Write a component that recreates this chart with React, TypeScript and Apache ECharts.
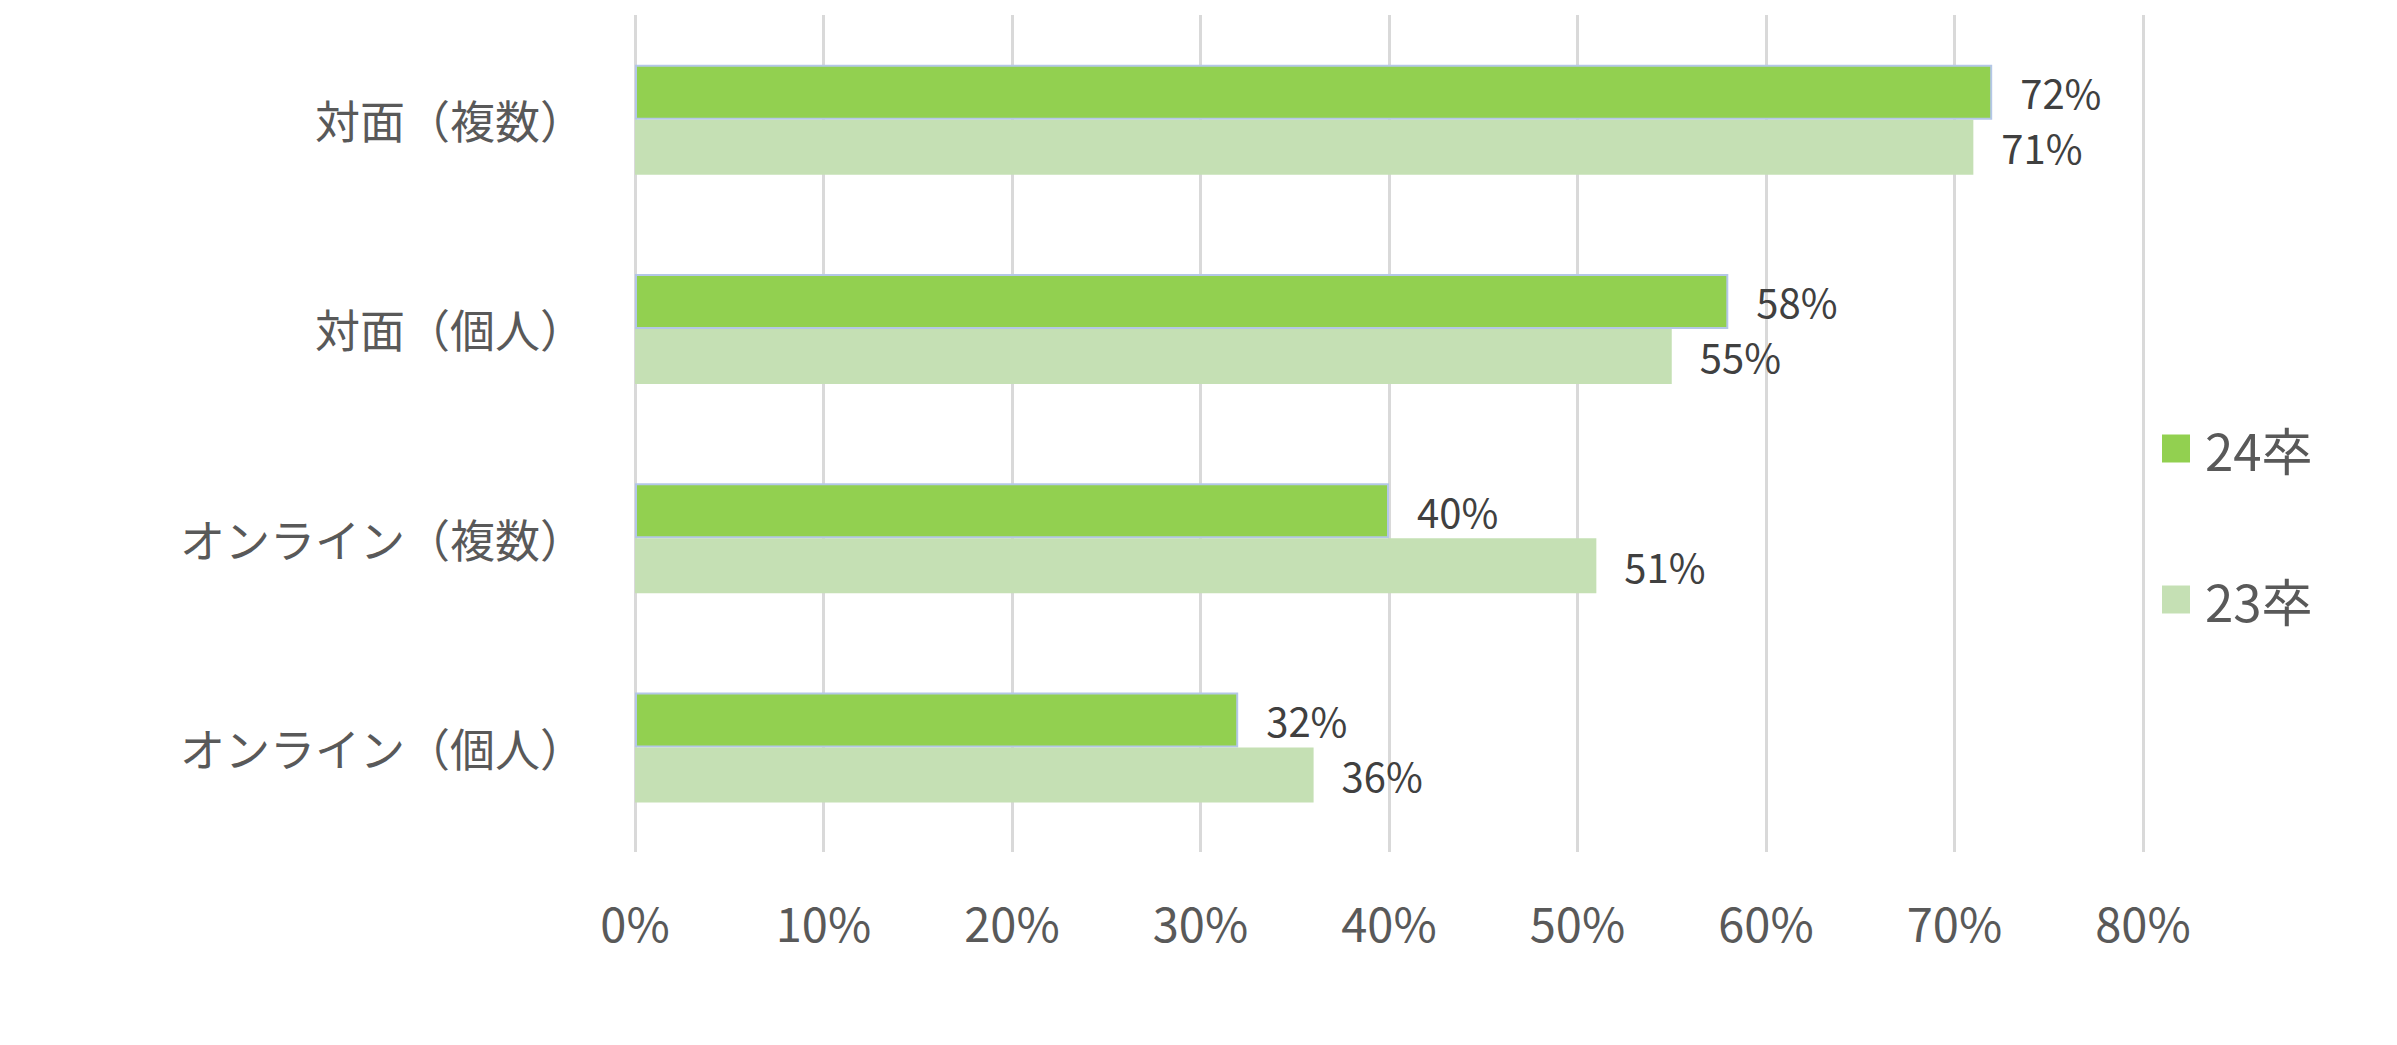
import React, { useEffect, useRef } from "react";
import * as echarts from "echarts";

const categories = ["対面（複数）", "対面（個人）", "オンライン（複数）", "オンライン（個人）"];
const seriesNames = ["24卒", "23卒"];
const values24 = [72, 58, 40, 32];
const values23 = [71, 55, 51, 36];
const xTicks = [0, 10, 20, 30, 40, 50, 60, 70, 80];

const JP = '"Noto Sans CJK JP", "Noto Sans", sans-serif';

export default function App() {
  const ref = useRef<HTMLDivElement>(null);
  useEffect(() => {
    if (!ref.current) return;
    const chart = echarts.init(ref.current, null, { renderer: "svg" });
    chart.setOption({
      animation: false,
      backgroundColor: "#ffffff",
      grid: { left: 635, right: 254, top: 15, bottom: 193, containLabel: false },
      legend: {
        orient: "vertical",
        left: 2157,
        top: 418,
        itemWidth: 28,
        itemHeight: 28,
        itemGap: 100,
        icon: "rect",
        data: seriesNames,
        itemStyle: { borderWidth: 0 },
        textStyle: { fontFamily: JP, fontSize: 51, color: "#595959", lineHeight: 50, padding: [0, 0, 0, 10] },
      },
      xAxis: {
        type: "value",
        min: xTicks[0],
        max: xTicks[xTicks.length - 1],
        interval: 10,
        axisLine: { show: false },
        axisTick: { show: false },
        splitLine: { show: true, lineStyle: { color: "#d9d9d9", width: 3 } },
        axisLabel: {
          formatter: (v: number) => `${v}%`,
          fontFamily: JP,
          fontSize: 47,
          color: "#595959",
          margin: 46,
        },
      },
      yAxis: {
        type: "category",
        inverse: true,
        data: categories,
        axisLine: { show: false },
        axisTick: { show: false },
        axisLabel: { fontFamily: JP, fontSize: 45, color: "#595959", margin: 50 },
      },
      series: [
        {
          name: seriesNames[0],
          type: "bar",
          data: values24,
          barWidth: 55,
          barGap: "0%",
          itemStyle: { color: "#92D050", borderColor: "#B4C7E7", borderWidth: 2 },
          label: {
            show: true,
            position: "right",
            distance: 28,
            formatter: "{c}%",
            fontFamily: JP,
            fontSize: 40,
            color: "#404040",
          },
        },
        {
          name: seriesNames[1],
          type: "bar",
          data: values23,
          barWidth: 55,
          barGap: "0%",
          itemStyle: { color: "#C5E0B4" },
          label: {
            show: true,
            position: "right",
            distance: 28,
            formatter: "{c}%",
            fontFamily: JP,
            fontSize: 40,
            color: "#404040",
          },
        },
      ],
    });
    return () => chart.dispose();
  }, []);
  return <div ref={ref} style={{ position: "fixed", left: 0, top: 0, width: 2397, height: 1045 }} />;
}
